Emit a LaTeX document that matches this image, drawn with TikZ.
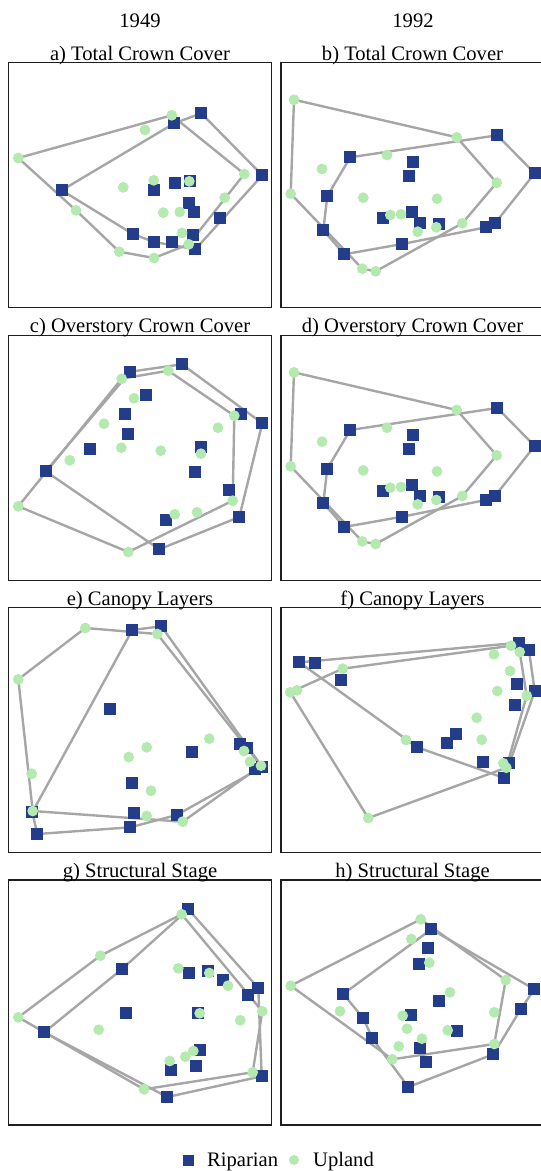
\documentclass[tikz,border=0pt]{standalone}
\usepackage{fontspec}
\setmainfont{Liberation Serif}
\pgfdeclarelayer{bg}
\pgfsetlayers{bg,main}
\definecolor{ripc}{RGB}{35,61,138}
\definecolor{uplc}{RGB}{180,234,176}
\definecolor{hullc}{RGB}{166,166,166}
\definecolor{framec}{RGB}{30,30,30}
\tikzset{
  rip/.style={fill=ripc,draw=none,minimum size=11.8pt,inner sep=0pt,rectangle},
  upl/.style={fill=uplc,draw=none,minimum size=10.8pt,inner sep=0pt,circle},
  hull/.style={draw=hullc,line width=2.4pt,line join=round},
  frame/.style={draw=framec,line width=1.1pt},
  lbl/.style={font=\fontsize{20.6}{24}\selectfont,inner sep=0pt,anchor=base}
}
\def\bRip{497.3/135.3,534.7/173.3,350.3/157.3,413.3/162.3,409.3/176,327.3/196,412.3/212.3,383.3/218.3,420.3/223,439.3/224,495/223.3,486/227.3,323.3/230.3,402.3/244,344.3/254.3}
\def\bUpl{294/99.7,456.7/137.3,387/155,322/169,496.7/182.7,290.7/193.7,363.3/197.7,437/198.7,390.3/215,401/214.3,462.3/223.3,417.7/231.7,436.3/227.3,362.3/268.7,375.7/271.3}
\begin{document}
\begin{tikzpicture}[x=1pt,y=-1pt]
\useasboundingbox (0,0) rectangle (541,1171);
% year labels
\node[lbl] (y1) at (140,27) {1949};
\node[lbl] (y2) at (413,27) {1992};
% frames
\foreach \t in {62.7,335.3,607.7,880} {
  \draw[frame] (8.3,\t) rectangle (271.7,\t+245);
  \draw[frame] (281,\t) rectangle (545,\t+245);
}
% titles
\node[lbl] (ta) at (140,60.2) {a) Total Crown Cover};
\node[lbl] (tb) at (412.5,60.2) {b) Total Crown Cover};
\node[lbl] (tc) at (140,332.8) {c) Overstory Crown Cover};
\node[lbl] (td) at (412.5,332.8) {d) Overstory Crown Cover};
\node[lbl] (te) at (140,605.2) {e) Canopy Layers};
\node[lbl] (tf) at (412.5,605.2) {f) Canopy Layers};
\node[lbl] (tg) at (140,877.5) {g) Structural Stage};
\node[lbl] (th) at (412.5,877.5) {h) Structural Stage};

% ---- panel a
\foreach \x/\y [count=\i] in {201.3/113.3,174.3/123.3,262.3/175.3,61.7/190.3,175.3/183.3,190.3/181.3,154.3/190.3,189.3/202.7,194.3/212.3,220.3/218.3,133.3/234.3,193.3/235.3,154.3/242,172.3/242,195.3/249.3}
  \node[rip] (aR\i) at (\x,\y) {};
\foreach \x/\y [count=\i] in {171.7/115.3,145/130,18.3/158,244.3/174,153.7/180.3,189.3/181.3,123.3/187.3,224.7/197.7,76/210.3,163.3/212.7,179.7/212,182/233,188.7/244.3,119.3/251.7,154/258}
  \node[upl] (aU\i) at (\x,\y) {};
\begin{pgfonlayer}{bg}
\draw[hull] (aR4.center)--(aR2.center)--(aR1.center)--(aR3.center)--(aR15.center)--(aR13.center)--(aR11.center)--cycle;
\draw[hull] (aU3.center)--(aU1.center)--(aU4.center)--(aU13.center)--(aU15.center)--(aU14.center)--(aU9.center)--cycle;
\end{pgfonlayer}

% ---- panel b
\foreach \x/\y [count=\i] in \bRip \node[rip] (bR\i) at (\x,\y) {};
\foreach \x/\y [count=\i] in \bUpl \node[upl] (bU\i) at (\x,\y) {};
\begin{pgfonlayer}{bg}
\draw[hull] (bR3.center)--(bR1.center)--(bR2.center)--(bR11.center)--(bR12.center)--(bR14.center)--(bR15.center)--(bR13.center)--(bR6.center)--cycle;
\draw[hull] (bU1.center)--(bU2.center)--(bU5.center)--(bU11.center)--(bU15.center)--(bU14.center)--(bU6.center)--cycle;
\end{pgfonlayer}

% ---- panel c
\foreach \x/\y [count=\i] in {182/364.3,130.3/371.7,146/395.3,241.3/414.3,262.3/423.3,125.3/414.3,128.3/434.3,90.3/449,201/447,45.7/471.3,195.3/472.3,229.3/490.3,239.3/517,166/520.3,159.3/549.3}
  \node[rip] (cR\i) at (\x,\y) {};
\foreach \x/\y [count=\i] in {168.3/370.7,121.7/378.7,134/398.3,234.3/415.7,218/427.7,104/423.7,121.3/447.7,160.7/450.7,201/453.7,69.7/460.3,232.7/500.7,197/512.3,174.7/514.3,18.3/506.3,128.3/552}
  \node[upl] (cU\i) at (\x,\y) {};
\begin{pgfonlayer}{bg}
\draw[hull] (cR10.center)--(cR2.center)--(cR1.center)--(cR5.center)--(cR13.center)--(cR15.center)--cycle;
\draw[hull] (cU14.center)--(cU2.center)--(cU1.center)--(cU4.center)--(cU11.center)--(cU15.center)--cycle;
\end{pgfonlayer}

% ---- panel d
\foreach \x/\y [count=\i] in \bRip \node[rip] (dR\i) at (\x,{\y+272.67}) {};
\foreach \x/\y [count=\i] in \bUpl \node[upl] (dU\i) at (\x,{\y+272.67}) {};
\begin{pgfonlayer}{bg}
\draw[hull] (dR3.center)--(dR1.center)--(dR2.center)--(dR11.center)--(dR12.center)--(dR14.center)--(dR15.center)--(dR13.center)--(dR6.center)--cycle;
\draw[hull] (dU1.center)--(dU2.center)--(dU5.center)--(dU11.center)--(dU15.center)--(dU14.center)--(dU6.center)--cycle;
\end{pgfonlayer}

% ---- panel e
\foreach \x/\y [count=\i] in {161.3/626.3,132.3/630,110.3/709.3,240/744.3,246.7/747.7,192.3/752.3,254.7/768.7,262.3/767,132.3/783.3,32.3/812.3,134.3/812.7,176.7/815,130.3/827.3,37.3/834}
  \node[rip] (eR\i) at (\x,\y) {};
\foreach \x/\y [count=\i] in {85.3/628,157.3/634,18.3/679.3,209.3/738.7,146.7/747.3,128.7/757,244/751,250/761.7,261/765.7,31.7/773.7,151/790.7,32.7/811,146.7/816,182.7/821.7}
  \node[upl] (eU\i) at (\x,\y) {};
\begin{pgfonlayer}{bg}
\draw[hull] (eR2.center)--(eR1.center)--(eR8.center)--(eR12.center)--(eR13.center)--(eR14.center)--(eR10.center)--cycle;
\draw[hull] (eU3.center)--(eU1.center)--(eU2.center)--(eU9.center)--(eU14.center)--(eU12.center)--cycle;
\end{pgfonlayer}

% ---- panel f
\foreach \x/\y [count=\i] in {519.3/642.7,529/650.3,299.3/662.3,315.3/663.3,341.3/680.3,516.7/684,534.7/691.3,515.3/705.3,456.3/734.3,447.3/743.3,417.3/747.3,483.3/762.3,509.3/763.3,504.3/778}
  \node[rip] (fR\i) at (\x,\y) {};
\foreach \x/\y [count=\i] in {511/645.7,519.7/652,494/654.3,342.7/668.7,510/671,297/690.3,290.3/692.3,497.3/691,526.7/695.7,476.7/717.7,406/740,481.7/739.7,503.3/763.3,506.3/767.7,368.3/818}
  \node[upl] (fU\i) at (\x,\y) {};
\begin{pgfonlayer}{bg}
\draw[hull] (fR3.center)--(fR1.center)--(fR2.center)--(fR7.center)--(fR14.center)--(fR11.center)--cycle;
\draw[hull] (fU7.center)--(fU4.center)--(fU1.center)--(fU2.center)--(fU9.center)--(fU14.center)--(fU15.center)--cycle;
\end{pgfonlayer}

% ---- panel g
\foreach \x/\y [count=\i] in {188.3/909.3,121.7/969.3,189.3/973.3,208.3/970.7,223.3/980.3,258.3/988,248/995,126.3/1013.3,198.3/1012.7,44.3/1032.3,200.3/1050.3,196.3/1066.3,171.3/1069.7,261.7/1076.3,167.3/1097}
  \node[rip] (gR\i) at (\x,\y) {};
\foreach \x/\y [count=\i] in {181.7/914.3,100.3/955.7,178.3/968.3,209.3/973,228/985.7,262.3/1011.3,18.3/1017.3,199.7/1013.3,240.3/1020.3,98.7/1029.7,193.3/1051,185.3/1056.7,169.7/1061,252.7/1072.3,144/1089.3}
  \node[upl] (gU\i) at (\x,\y) {};
\begin{pgfonlayer}{bg}
\draw[hull] (gR10.center)--(gR2.center)--(gR1.center)--(gR6.center)--(gR14.center)--(gR15.center)--cycle;
\draw[hull] (gU7.center)--(gU2.center)--(gU1.center)--(gU6.center)--(gU14.center)--(gU15.center)--cycle;
\end{pgfonlayer}

% ---- panel h
\foreach \x/\y [count=\i] in {431.3/929.3,428.3/948,419.3/964.3,534.3/989.3,343.3/994,439.3/1001.3,520.7/1009.3,363.3/1018.3,411.3/1015.3,457/1031,372.3/1038.3,420.3/1048.3,493.3/1054.3,426.3/1062.3,408.3/1087}
  \node[rip] (hR\i) at (\x,\y) {};
\foreach \x/\y [count=\i] in {420.7/919.3,411.3/939,429.3/962.7,505.7/980,290.7/985.7,450/992.3,340/1011.3,494.3/1012.3,402.7/1015.7,407/1028.7,447.7/1030.3,422/1038.7,398.7/1046.3,494.3/1044,392.3/1059.3}
  \node[upl] (hU\i) at (\x,\y) {};
\begin{pgfonlayer}{bg}
\draw[hull] (hR5.center)--(hR1.center)--(hR4.center)--(hR7.center)--(hR13.center)--(hR15.center)--(hR11.center)--(hR8.center)--cycle;
\draw[hull] (hU5.center)--(hU1.center)--(hU4.center)--(hU14.center)--(hU15.center)--cycle;
\end{pgfonlayer}

% legend
\node[rip,minimum size=11pt] (legR) at (188.5,1160) {};
\node[lbl,anchor=base west] (legRt) at (207,1166.7) {Riparian};
\node[upl,minimum size=10pt] (legU) at (294,1160) {};
\node[lbl,anchor=base west] (legUt) at (313,1166.7) {Upland};
\end{tikzpicture}
\end{document}
